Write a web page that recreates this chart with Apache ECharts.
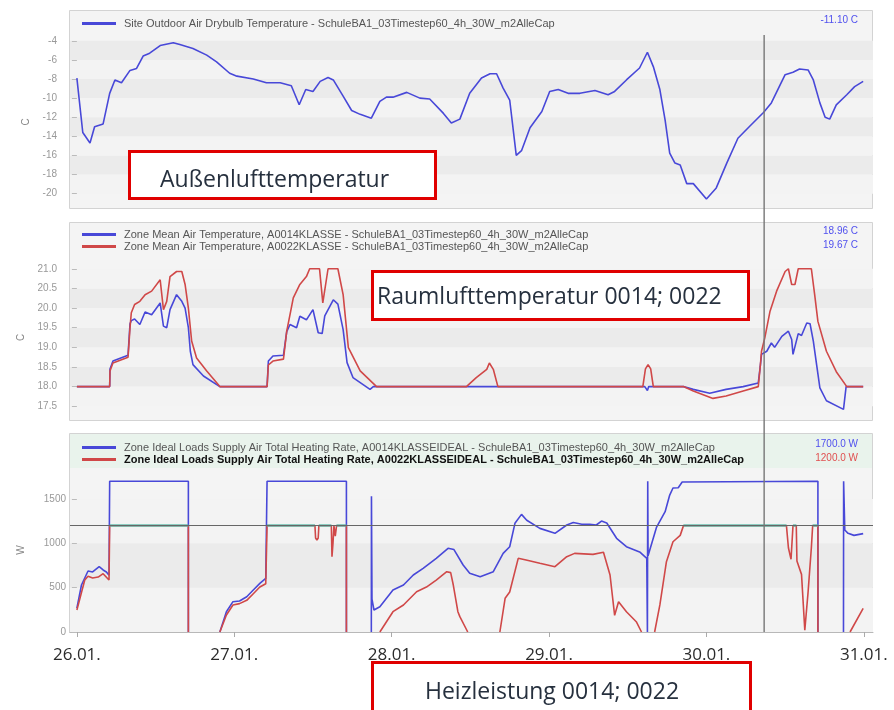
<!DOCTYPE html>
<html><head><meta charset="utf-8">
<script src="https://cdn.jsdelivr.net/npm/echarts@6/dist/echarts.min.js"></script>
<style>html,body{margin:0;padding:0;background:#fff}#c{width:894px;height:710px}</style>
</head><body><div id="c"></div>
<script>
// ---------- DATA (hours since 26.01. 00:00) ----------
const dayLabels = ['26.01.', '27.01.', '28.01.', '29.01.', '30.01.', '31.01.'];
const dayTicks = [0, 24, 48, 72, 96, 120];
const outdoorTicks = [-20, -18, -16, -14, -12, -10, -8, -6, -4];
const zoneTicks = [17.5, 18, 18.5, 19, 19.5, 20, 20.5, 21];
const heatTicks = [0, 500, 1000, 1500];

const outdoorTemp = [[0,-7.9],[0.9,-13.6],[2,-14.7],[2.7,-13.0],[4,-12.7],[5,-9.5],[5.8,-8.1],[6.8,-8.4],[8.1,-7.1],[9.1,-6.9],[10.1,-5.6],[11.1,-5.3],[12.7,-4.5],[14.7,-4.2],[15.7,-4.4],[17.7,-4.8],[19.8,-5.5],[21.3,-6.2],[23.3,-7.4],[24.4,-7.7],[26.9,-8.0],[28.9,-8.4],[31,-8.4],[32.7,-8.7],[33.9,-10.7],[34.9,-9.1],[36,-9.3],[37.1,-8.25],[38.3,-7.85],[39.1,-8.1],[40.6,-9.8],[41.9,-11.3],[43.2,-11.7],[44.9,-12.1],[46.2,-10.35],[47.2,-9.9],[48.2,-9.9],[50.3,-9.4],[52.3,-10.0],[53.8,-10.1],[55.9,-11.6],[57.1,-12.6],[58.4,-12.2],[59.9,-9.5],[61.7,-7.9],[63,-7.45],[64,-7.45],[65,-8.95],[66,-10.2],[67,-16.0],[67.8,-15.5],[69.1,-13.1],[70.9,-11.4],[72.1,-9.3],[73.4,-9.1],[74.9,-9.5],[76.7,-9.5],[79,-9.2],[81,-9.65],[82,-9.3],[83.8,-8.1],[85.8,-6.85],[87,-5.2],[87.9,-6.7],[88.9,-9.1],[89.7,-12.3],[90.4,-15.75],[91.2,-16.8],[92,-17.0],[93,-18.95],[94,-18.95],[96,-20.55],[97.5,-19.4],[99.1,-16.8],[100.8,-14.2],[102.6,-12.95],[104.7,-11.5],[105.9,-10.5],[108,-7.55],[109.2,-7.3],[110.2,-6.95],[111.5,-7.05],[112.3,-8.1],[113.3,-10.5],[114.1,-12.0],[114.8,-12.2],[115.8,-10.7],[117.4,-9.65],[118.6,-8.8],[119.9,-8.25]];

const zoneTemp0014 = [[0,18.0],[5.0,18.0],[5.05,18.45],[5.5,18.65],[7.8,18.8],[8.1,19.6],[8.3,19.68],[8.8,19.72],[9.6,19.58],[10.4,19.9],[11.4,19.83],[12.7,20.13],[13.2,19.54],[13.7,19.5],[14.2,19.96],[15.2,20.34],[16.0,20.17],[16.5,20.0],[17.0,19.5],[17.3,18.9],[17.7,18.56],[19.3,18.27],[21.8,18.0],[29.0,18.0],[29.2,18.65],[29.9,18.78],[31.5,18.8],[32.0,19.4],[32.5,19.58],[33.5,19.5],[34.0,19.79],[35.0,19.7],[36.0,19.96],[36.8,19.37],[37.4,19.35],[37.8,19.8],[39.1,20.21],[39.8,20.1],[40.6,19.45],[41.2,18.61],[42.1,18.23],[44.7,17.93],[45.2,18.0],[86.6,18.0],[87.0,17.9],[87.2,18.0],[92.5,18.0],[94.0,17.93],[96.5,17.83],[99.0,17.93],[101.6,18.0],[103.9,18.09],[104.2,18.5],[104.4,18.82],[105.2,18.9],[105.9,19.11],[106.4,19.0],[107.5,19.28],[108.5,19.41],[109.0,19.2],[109.2,18.82],[110.0,19.35],[110.5,19.3],[111.3,19.62],[111.8,19.6],[112.3,19.16],[112.8,18.56],[113.3,17.97],[114.3,17.64],[116.9,17.42],[117.1,17.4],[117.3,18.0],[119.9,18.0]];

const zoneTemp0022 = [[0,18.0],[5.0,18.0],[5.05,18.4],[5.5,18.6],[7.8,18.75],[8.1,19.5],[8.3,19.88],[8.8,20.09],[9.6,20.17],[10.4,20.34],[11.4,20.43],[12.7,20.72],[13.2,19.96],[13.7,20.17],[14.2,20.8],[15.2,20.93],[16.0,20.93],[16.5,20.6],[17.0,20.0],[17.5,19.16],[18.25,18.73],[19.8,18.4],[21.8,18.0],[29.0,18.0],[29.2,18.55],[29.9,18.65],[31.5,18.7],[32.0,19.41],[32.5,19.83],[33.0,20.26],[34.0,20.6],[35.0,20.8],[35.5,21.0],[37.0,21.0],[37.5,20.13],[37.8,20.15],[38.3,21.0],[39.8,21.0],[40.6,20.34],[41.4,18.99],[43.2,18.4],[45.7,18.0],[59.4,18.0],[60.9,18.23],[62.5,18.44],[62.9,18.6],[63.5,18.44],[64.2,18.0],[86.3,18.0],[86.7,18.45],[87.1,18.56],[87.5,18.45],[87.9,18.0],[92.5,18.0],[94.0,17.89],[97.0,17.7],[99.0,17.76],[101.6,17.89],[103.9,18.0],[104.2,18.5],[104.4,18.9],[104.9,19.24],[105.7,19.92],[106.7,20.43],[108.0,20.93],[108.5,21.0],[109.0,20.6],[109.5,20.6],[110.0,21.0],[112.0,21.0],[112.5,20.35],[113.0,19.66],[114.3,18.9],[115.8,18.38],[117.4,18.0],[119.9,18.0]];

// null = heating off (line break)
const heating0014 = [[0,270],[0.7,530],[1.7,688],[2.4,677],[3.4,737],[4.0,700],[4.5,677],[4.9,640],[5.0,1700],[17.0,1700],[17.0,0],[19,null],[21.8,0],[22.8,229],[23.8,342],[24.8,350],[25.9,398],[26.9,474],[27.9,549],[28.8,605],[29.0,1700],[41.1,1700],[41.1,0],[43,null],[44.9,0],[44.92,1530],[45.0,370],[45.3,248],[46.2,285],[48.2,474],[49.8,530],[51.3,643],[52.8,718],[54.8,831],[56.6,944],[57.5,930],[58.9,756],[59.9,662],[61.5,624],[63.5,680],[65.0,887],[66.0,962],[66.8,1226],[67.8,1327],[68.6,1260],[70.6,1169],[72.9,1113],[74.7,1207],[75.7,1235],[77.0,1215],[78.2,1215],[79.2,1207],[80.0,1252],[80.8,1230],[82.3,1057],[83.8,962],[85.9,899],[86.9,831],[87.0,0],[87.05,1700],[87.1,860],[88.4,1184],[89.7,1357],[90.4,1545],[90.9,1624],[91.7,1628],[92.3,1692],[92.5,1700],[113.0,1700],[113.0,0],[115,null],[116.9,0],[116.92,1700],[117.1,1150],[117.6,1113],[118.5,1090],[119.9,1110]];

const heating0022 = [[0,248],[1.2,586],[1.7,628],[2.4,610],[3.25,620],[4.0,658],[4.9,586],[5.0,1200],[17.0,1200],[17.0,0],[19,null],[21.8,0],[22.8,192],[23.8,305],[24.8,320],[25.9,357],[26.9,432],[27.9,507],[28.8,545],[29.0,1200],[36.3,1200],[36.4,1060],[36.6,1037],[36.8,1060],[36.9,1200],[38.8,1200],[38.9,849],[39.05,1000],[39.2,1200],[39.4,1080],[39.6,1200],[41.1,1200],[41.1,0],[43,null],[46.2,0],[48.2,229],[49.8,305],[51.8,454],[53.3,507],[54.8,586],[56.4,680],[57.0,670],[57.4,530],[58.1,229],[58.4,173],[59.6,0],[62,null],[64.5,0],[65.3,380],[66.0,451],[67.3,831],[68.5,812],[70.6,775],[72.9,737],[74.7,850],[75.9,887],[78.7,876],[80.3,899],[81.3,643],[82.0,188],[82.6,342],[83.8,229],[85.3,116],[86.1,0],[87,null],[88.1,0],[88.9,305],[89.9,793],[90.9,1018],[92.0,1090],[92.5,1200],[108.2,1200],[108.5,950],[108.9,820],[109.2,1200],[109.7,1200],[109.8,800],[110.5,650],[111.0,20],[111.5,450],[112.0,950],[112.2,1200],[113.0,1200],[113.0,0],[115,null],[117.9,0],[119.9,267]];

const cursorHour = 104.8;
const heatLimit = 1200;
const cursorValues = ['-11.10 C', '18.96 C', '19.67 C', '1700.0 W', '1200.0 W'];
const seriesNames = [
  'Site Outdoor Air Drybulb Temperature - SchuleBA1_03Timestep60_4h_30W_m2AlleCap',
  'Zone Mean Air Temperature, A0014KLASSE - SchuleBA1_03Timestep60_4h_30W_m2AlleCap',
  'Zone Mean Air Temperature, A0022KLASSE - SchuleBA1_03Timestep60_4h_30W_m2AlleCap',
  'Zone Ideal Loads Supply Air Total Heating Rate, A0014KLASSEIDEAL - SchuleBA1_03Timestep60_4h_30W_m2AlleCap',
  'Zone Ideal Loads Supply Air Total Heating Rate, A0022KLASSEIDEAL - SchuleBA1_03Timestep60_4h_30W_m2AlleCap'
];
const notes = ['Außenlufttemperatur', 'Raumlufttemperatur 0014; 0022', 'Heizleistung 0014; 0022'];

// ---------- STYLE ----------
const BLUE = '#4848d8', RED = '#d04848', TEAL = '#2fd0b8';
const SANS = 'Liberation Sans, Arial, sans-serif';
const X_MIN = -1.05, X_MAX = 121.4;

const chart = echarts.init(document.getElementById('c'), null, {renderer: 'canvas'});

function xAxis(i, show) {
  return {
    type: 'value', gridIndex: i, min: X_MIN, max: X_MAX,
    axisLine: {show: show, lineStyle: {color: '#b8b8b8'}},
    axisTick: {show: show, length: 5, lineStyle: {color: '#aaa'}, customValues: dayTicks},
    axisLabel: {show: show, customValues: dayTicks, margin: 15,
      formatter: v => dayLabels[Math.round(v / 24)],
      fontFamily: 'Open Sans', fontSize: 17, color: '#2b2b2b'},
    splitLine: {show: false}
  };
}
function yAxis(i, min, max, ticks, fmt, name, offset, gap) {
  return {
    type: 'value', gridIndex: i, min: min, max: max, offset: offset,
    name: name, nameLocation: 'middle', nameGap: gap, nameRotate: 90,
    nameTextStyle: {color: '#888', fontSize: 10, fontFamily: SANS},
    axisLine: {show: false},
    axisTick: {show: true, length: 5, lineStyle: {color: '#bbb'}, customValues: ticks},
    axisLabel: {customValues: ticks, formatter: fmt, color: '#999', fontSize: 10, fontFamily: SANS, margin: 4},
    splitLine: {show: false},
    splitArea: {show: true, areaStyle: {color: ['#f3f3f3', '#ebebeb']}}
  };
}
function line(name, data, xi, color, z, width) {
  return {
    name: name, type: 'line', xAxisIndex: xi, yAxisIndex: xi, data: data,
    showSymbol: false, symbol: 'none', connectNulls: false, z: z || 2,
    lineStyle: {width: width || 1.6, color: color}, itemStyle: {color: color}, animation: false
  };
}
function legend(top, names) {
  return {
    left: 77, top: top, orient: 'vertical', itemGap: 1, itemWidth: 34, itemHeight: 3,
    icon: 'rect', selectedMode: false, data: names,
    textStyle: {fontSize: 11, color: '#555', fontFamily: SANS, padding: [0, 0, 0, 3]}
  };
}

// segments of A0022 heating that sit at the capacity limit (shown teal in the original)
const heating0022AtLimit = heating0022.map(p => [p[0], p[1] === heatLimit ? p[1] : null]);

const blueHeat = line(seriesNames[3], heating0014, 2, BLUE, 2);
blueHeat.markLine = {
  silent: true, symbol: 'none', label: {show: false}, animation: false,
  lineStyle: {color: '#666', width: 1.2, type: 'solid'},
  data: [{yAxis: heatLimit}]
};

const option = {
  backgroundColor: '#fff',
  animation: false,
  grid: [
    {left: 70, right: 21, top: 36, height: 172},
    {left: 70, right: 21, top: 255, height: 165},
    {left: 70, right: 21, top: 468, height: 164}
  ],
  xAxis: [xAxis(0, false), xAxis(1, false), xAxis(2, true)],
  yAxis: [
    yAxis(0, -21.5, -3.5, outdoorTicks, v => String(v), 'C', 9, 28),
    yAxis(1, 17.15, 21.35, zoneTicks, v => v.toFixed(1), 'C', 9, 30),
    yAxis(2, 0, 1850, heatTicks, v => String(v), 'W', 0, 44)
  ],
  legend: [
    legend(13, [seriesNames[0]]),
    legend(224, [seriesNames[1], seriesNames[2]]),
    legend(437, [seriesNames[3], {name: seriesNames[4], textStyle: {fontWeight: 'bold', color: '#111', fontSize: 11, fontFamily: SANS, padding: [0, 0, 0, 3]}}])
  ],
  series: [
    line(seriesNames[0], outdoorTemp, 0, BLUE),
    line(seriesNames[1], zoneTemp0014, 1, BLUE),
    line(seriesNames[2], zoneTemp0022, 1, RED, 3),
    blueHeat,
    line(seriesNames[4], heating0022, 2, RED, 3),
    line('limit', heating0022AtLimit, 2, TEAL, 4, 2)
  ]
};
chart.setOption(option);

// ---------- overlay graphics (frames, cursor, annotations) ----------
const cx = chart.convertToPixel({xAxisIndex: 0}, cursorHour);
const yTop = chart.convertToPixel({yAxisIndex: 0}, -3.5) - 1;
const yBot = chart.convertToPixel({yAxisIndex: 2}, 0);

function frame(y, h, legendFill, legendH) {
  const els = [{type: 'rect', z: -2, shape: {x: 69.5, y: y + 0.5, width: 803, height: h},
    style: {fill: '#f4f4f4', stroke: '#d3d3d3', lineWidth: 1}}];
  if (legendFill) els.push({type: 'rect', z: -1, shape: {x: 70, y: y + 1, width: 802, height: legendH}, style: {fill: legendFill}});
  return els;
}
function valText(txt, y, color) {
  return {type: 'text', z: 20, style: {text: txt, x: 858, y: y, align: 'right', verticalAlign: 'middle',
    fill: color, font: '10px ' + SANS}};
}
function note(x, y, w, h, txt, tx, ty) {
  return [
    {type: 'rect', z: 100, shape: {x: x, y: y, width: w, height: h}, style: {fill: '#fff', stroke: '#e00000', lineWidth: 3}},
    {type: 'text', z: 101, style: {text: txt, x: tx, y: ty, verticalAlign: 'middle', fill: '#26303e', font: '23px "Open Sans"'}}
  ];
}

chart.setOption({
  graphic: [].concat(
    frame(10, 198),
    frame(222, 198),
    frame(433, 199, '#e9f3ec', 34),
    [
      {type: 'line', z: 5, shape: {x1: cx, y1: yTop, x2: cx, y2: yBot}, style: {stroke: '#777', lineWidth: 1.4}},
      valText(cursorValues[0], 20, '#5050ee'),
      valText(cursorValues[1], 231, '#5050ee'),
      valText(cursorValues[2], 245, '#5050ee'),
      valText(cursorValues[3], 444, '#5050ee'),
      valText(cursorValues[4], 458, '#e05050')
    ],
    note(129.5, 151.5, 306, 47, notes[0], 160, 180),
    note(372.5, 271.5, 376, 48, notes[1], 377, 297),
    note(372.5, 662.5, 378, 60, notes[2], 425, 692)
  )
});
</script></body></html>
